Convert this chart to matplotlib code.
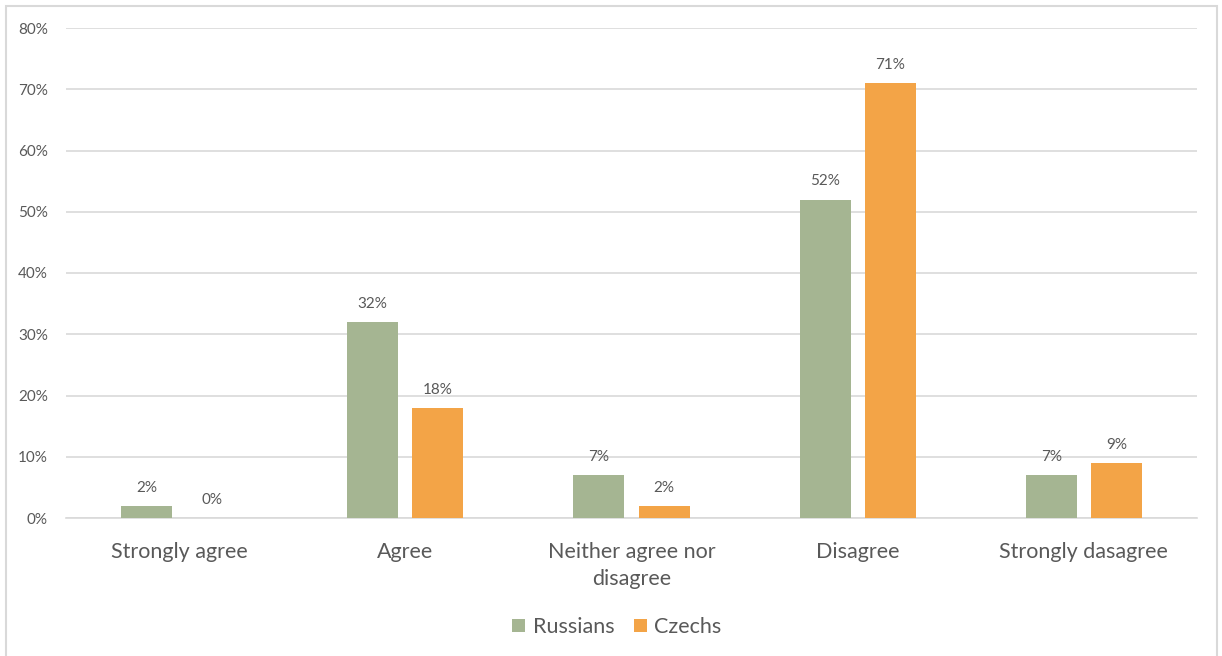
import matplotlib
matplotlib.use('Agg')
import matplotlib.pyplot as plt
import numpy as np
from matplotlib.patches import Rectangle

categories = ['Strongly agree', 'Agree', 'Neither agree nor\ndisagree', 'Disagree', 'Strongly dasagree']
russians = [2, 32, 7, 52, 7]
czechs = [0, 18, 2, 71, 9]
y_ticks = [0, 10, 20, 30, 40, 50, 60, 70, 80]

green = '#A5B592'
orange = '#F3A447'
grey_text = '#595959'

plt.rcParams['font.family'] = ['Lato', 'DejaVu Sans']

fig = plt.figure(figsize=(12.22, 6.56), dpi=100)
ax = fig.add_axes([66 / 1222, 1 - 518 / 656, (1197 - 66) / 1222, (518 - 28) / 656])

# light frame round the whole chart
fig.patches.append(Rectangle((6 / 1222, -0.02), (1217 - 6) / 1222, 1 - 6 / 656 + 0.02,
                             transform=fig.transFigure, fill=False,
                             edgecolor='#D9D9D9', linewidth=1.5))

x = np.arange(len(categories))
width = 0.225
offset = 0.144
b1 = ax.bar(x - offset, russians, width=width, color=green, label='Russians', zorder=3)
b2 = ax.bar(x + offset, czechs, width=width, color=orange, label='Czechs', zorder=3)

for bars, vals in ((b1, russians), (b2, czechs)):
    for bar, v in zip(bars, vals):
        ax.annotate(f'{v}%', (bar.get_x() + bar.get_width() / 2, v),
                    xytext=(0, 8), textcoords='offset points',
                    ha='center', va='bottom', fontsize=11, color=grey_text)

ax.set_xlim(-0.5, len(categories) - 0.5)
ax.set_ylim(0, 80)
ax.set_yticks(y_ticks)
ax.set_yticklabels([f'{t}%' for t in y_ticks], fontsize=11, color=grey_text)
ax.set_xticks(x)
ax.set_xticklabels(categories, fontsize=15.5, color=grey_text, linespacing=1.45)
ax.tick_params(axis='both', length=0)
ax.tick_params(axis='y', pad=13)
ax.tick_params(axis='x', pad=17)

ax.grid(axis='y', color='#D9D9D9', linewidth=1.2, zorder=0)
for s in ['top', 'right', 'left']:
    ax.spines[s].set_visible(False)
ax.spines['bottom'].set_color('#D9D9D9')
ax.spines['bottom'].set_linewidth(1.2)

fig.legend(loc='center', bbox_to_anchor=(617 / 1222, 1 - 627 / 656), ncol=2,
           frameon=False, fontsize=15.5, labelcolor=grey_text,
           handlelength=0.6, handleheight=0.6, handletextpad=0.35, columnspacing=0.9)

fig.savefig('out.png', dpi=100)
